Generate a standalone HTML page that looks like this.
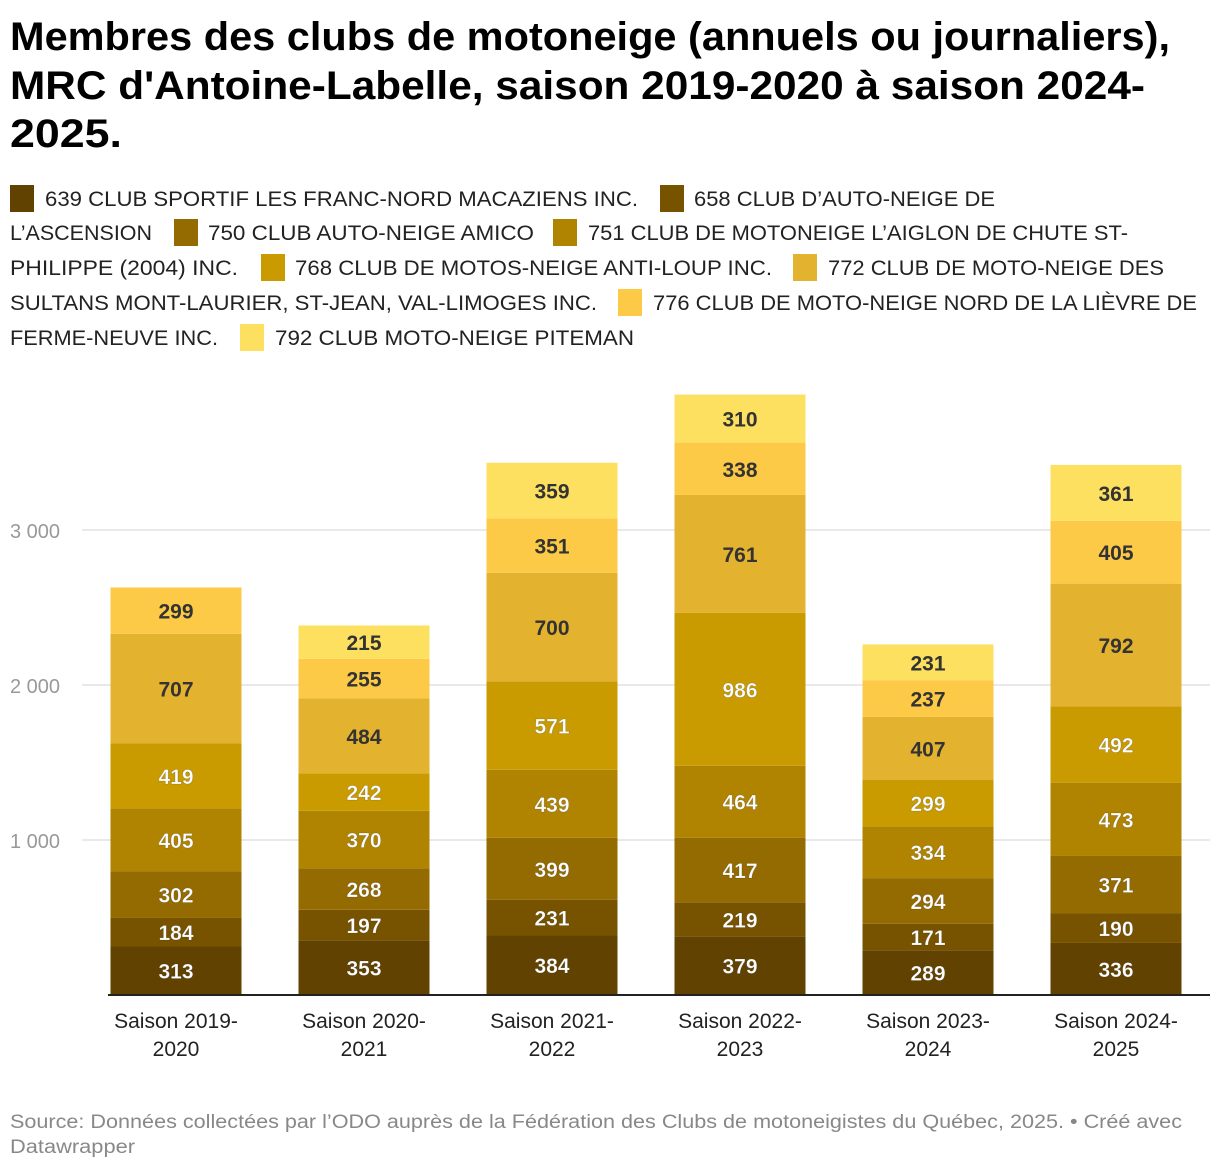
<!DOCTYPE html>
<html><head><meta charset="utf-8"><style>
html,body{margin:0;padding:0;background:#fff;}
svg{display:block;font-family:"Liberation Sans",sans-serif;}
</style></head><body>
<svg id="chart" width="1220" height="1170" viewBox="0 0 1220 1170" xmlns="http://www.w3.org/2000/svg">
<g font-weight="bold" font-size="40" fill="#000">
<text x="10" y="50" textLength="1160" lengthAdjust="spacingAndGlyphs">Membres des clubs de motoneige (annuels ou journaliers),</text>
<text x="10" y="99" textLength="1135" lengthAdjust="spacingAndGlyphs">MRC d'Antoine-Labelle, saison 2019-2020 à saison 2024-</text>
<text x="10" y="147" textLength="112" lengthAdjust="spacingAndGlyphs">2025.</text>
</g>
<g id="legend" font-size="21" fill="#222"></g>
<g id="grid"></g>
<g id="bars"></g>
<g id="xaxis" font-size="21" fill="#222" text-anchor="middle"></g>
<g font-size="19" fill="#888">
<text x="10" y="1128" textLength="1172" lengthAdjust="spacingAndGlyphs">Source: Données collectées par l’ODO auprès de la Fédération des Clubs de motoneigistes du Québec, 2025.  • Créé avec</text>
<text x="10" y="1153" textLength="125" lengthAdjust="spacingAndGlyphs">Datawrapper</text>
</g>
</svg>
<script>
const categories=["Saison 2019-|2020","Saison 2020-|2021","Saison 2021-|2022","Saison 2022-|2023","Saison 2023-|2024","Saison 2024-|2025"];
const seriesNames=["639 CLUB SPORTIF LES FRANC-NORD MACAZIENS INC.","658 CLUB D’AUTO-NEIGE DE L’ASCENSION","750 CLUB AUTO-NEIGE AMICO","751 CLUB DE MOTONEIGE L’AIGLON DE CHUTE ST-PHILIPPE (2004) INC.","768 CLUB DE MOTOS-NEIGE ANTI-LOUP INC.","772 CLUB DE MOTO-NEIGE DES SULTANS MONT-LAURIER, ST-JEAN, VAL-LIMOGES INC.","776 CLUB DE MOTO-NEIGE NORD DE LA LIÈVRE DE FERME-NEUVE INC.","792 CLUB MOTO-NEIGE PITEMAN"];
const s639=[313,353,384,379,289,336];
const s658=[184,197,231,219,171,190];
const s750=[302,268,399,417,294,371];
const s751=[405,370,439,464,334,473];
const s768=[419,242,571,986,299,492];
const s772=[707,484,700,761,407,792];
const s776=[299,255,351,338,237,405];
const s792=[null,215,359,310,231,361];
const yTicks=[1000,2000,3000];
const yTickLabels=["1 000","2 000","3 000"];
const series=[s639,s658,s750,s751,s768,s772,s776,s792];
const colors=["#624200","#775300","#946b00","#b08400","#c99b00","#e3b22e","#fdca47","#fee060"];
const NS="http://www.w3.org/2000/svg";
function el(t,a,p){const e=document.createElementNS(NS,t);for(const k in a)e.setAttribute(k,a[k]);p.appendChild(e);return e;}
const y0=995,pxPer=0.155;
function y(v){return y0-v*pxPer;}
const x0=176,step=188,bw=131;
function x(i){return x0+i*step;}
// legend (manual line layout)
const lg=document.getElementById('legend');
const legendItems=[
 {box:[10,198,0],txt:[[45,198,593,"639 CLUB SPORTIF LES FRANC-NORD MACAZIENS INC."]]},
 {box:[660,198,1],txt:[[694,198,301,"658 CLUB D’AUTO-NEIGE DE"],[10,232,142,"L’ASCENSION"]]},
 {box:[174,232,2],txt:[[208,232,326,"750 CLUB AUTO-NEIGE AMICO"]]},
 {box:[553,232,3],txt:[[588,232,540,"751 CLUB DE MOTONEIGE L’AIGLON DE CHUTE ST-"],[10,267,228,"PHILIPPE (2004) INC."]]},
 {box:[261,267,4],txt:[[295,267,477,"768 CLUB DE MOTOS-NEIGE ANTI-LOUP INC."]]},
 {box:[793,267,5],txt:[[828,267,336,"772 CLUB DE MOTO-NEIGE DES"],[10,302,587,"SULTANS MONT-LAURIER, ST-JEAN, VAL-LIMOGES INC."]]},
 {box:[618,302,6],txt:[[653,302,544,"776 CLUB DE MOTO-NEIGE NORD DE LA LIÈVRE DE"],[10,337,208,"FERME-NEUVE INC."]]},
 {box:[240,337,7],txt:[[275,337,359,"792 CLUB MOTO-NEIGE PITEMAN"]]}
];
legendItems.forEach((it,i)=>{
 const g=el('g',{},lg);
 
 
 const r=el('rect',{x:it.box[0],y:it.box[1]-13,width:24,height:27,fill:colors[it.box[2]]},g);
 
 
 it.txt.forEach(t=>{
  const tx=el('text',{x:t[0],y:t[1]+8,textLength:t[2],lengthAdjust:'spacingAndGlyphs'},g);
  tx.textContent=t[3];
  
  
 });
});
// grid
const gr=document.getElementById('grid');
yTicks.forEach((v,i)=>{
 const l=el('line',{x1:82,x2:1210,y1:y(v),y2:y(v),stroke:'#e2e2e2','stroke-width':1.5},gr);
 
 
 const t=el('text',{x:10,y:y(v)+8,'font-size':20,fill:'#999'},gr);
 t.textContent=yTickLabels[i];
 
 
});
// bars
const bg=document.getElementById('bars');
categories.forEach((c,i)=>{
 let acc=0;
 const g=el('g',{},bg);
 
 
 series.forEach((s,k)=>{
  const v=s[i]; if(v==null) return;
  const top=y(acc+v),bot=y(acc);
  const r=el('rect',{x:x(i)-bw/2,y:top,width:bw,height:bot-top,fill:colors[k]},g);
  
  
  const dark=k>=5;
  const t=el('text',{x:x(i),y:(top+bot)/2+8,'text-anchor':'middle','font-size':21,'font-weight':'bold',fill:dark?'#333':'#fff',stroke:dark?'none':'rgba(0,0,0,0.25)','stroke-width':dark?0:0.6},g);
  t.textContent=v;
  
  
  acc+=v;
 });
});
// x axis
const xa=document.getElementById('xaxis');
const bl=el('line',{x1:108,x2:1210,y1:y0,y2:y0,stroke:'#222','stroke-width':2},xa);


categories.forEach((c,i)=>{
 const parts=c.split('|');
 parts.forEach((p,j)=>{
  const t=el('text',{x:x(i),y:1028+j*28},xa);
  t.textContent=p;
  
  
 });
});
</script>
</body></html>
